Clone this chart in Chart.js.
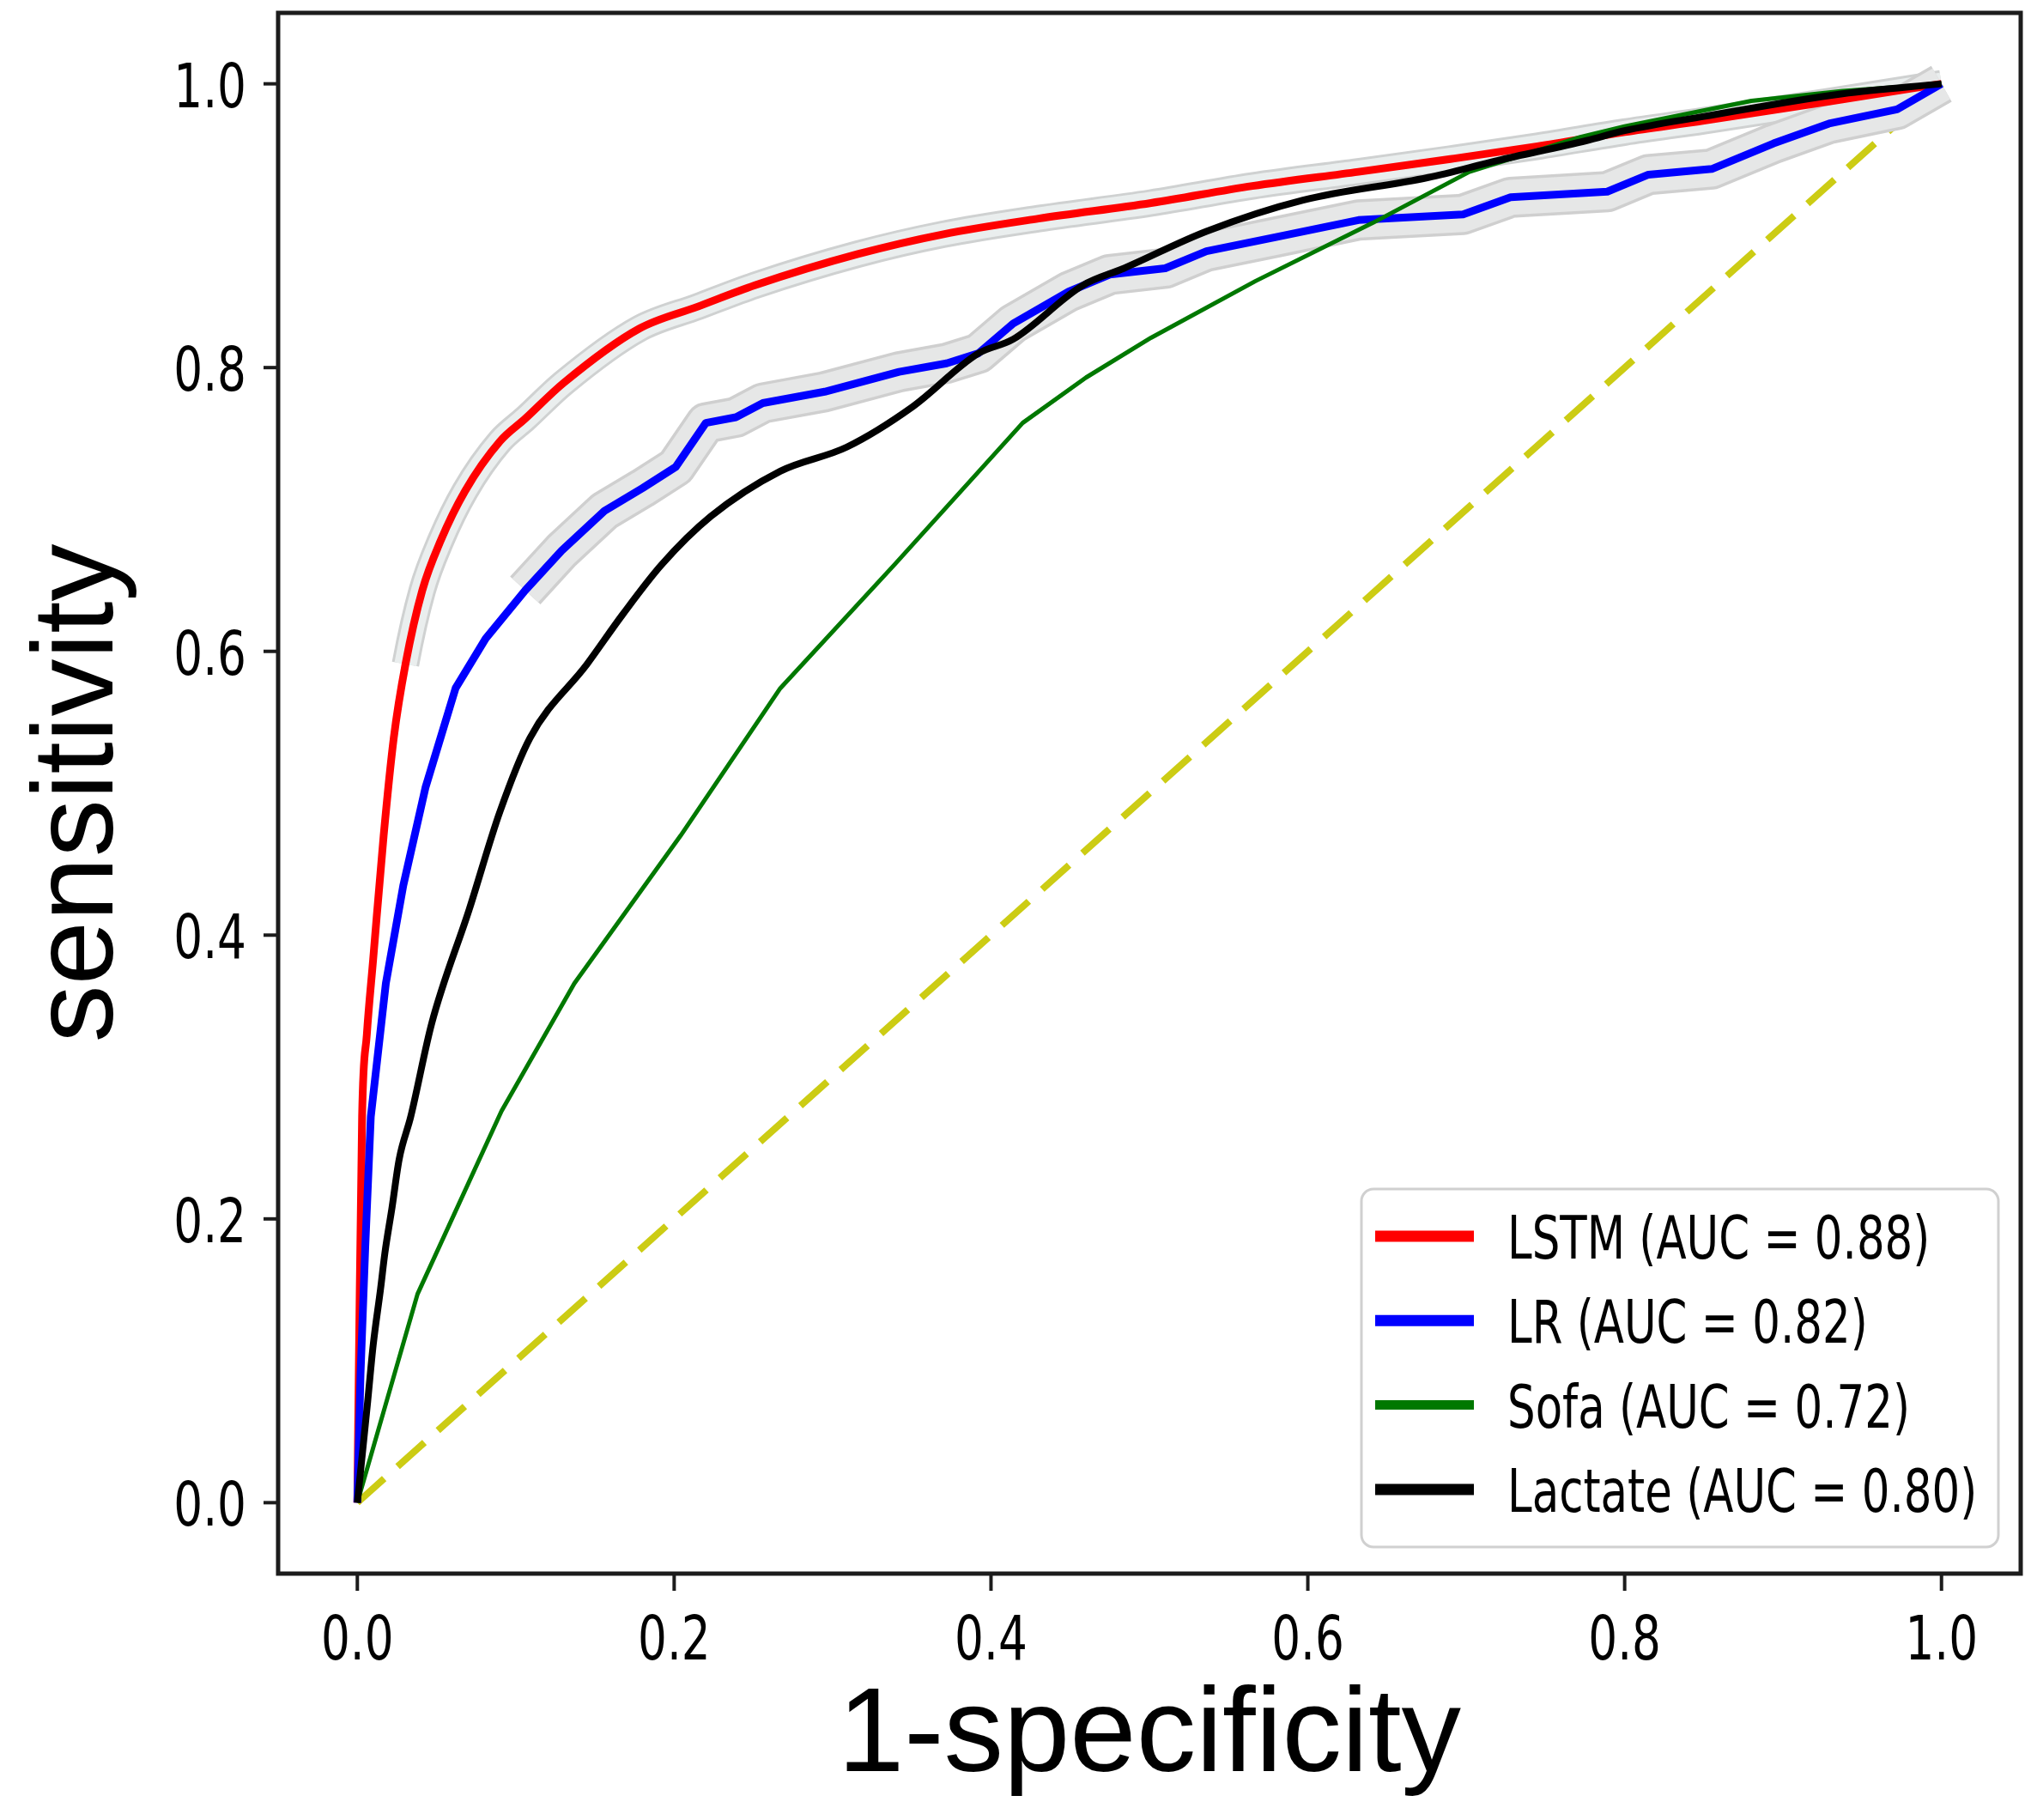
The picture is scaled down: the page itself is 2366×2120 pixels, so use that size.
<!DOCTYPE html>
<html><head><meta charset="utf-8">
<script src="https://cdn.jsdelivr.net/npm/chart.js@4/dist/chart.umd.min.js"></script>
<style>html,body{margin:0;padding:0;background:#fff;}canvas{display:block;}</style>
</head><body>
<canvas id="c" width="2366" height="2120"></canvas>
<script>
// ---------- data ----------
const xTickValues = [0, 0.2, 0.4, 0.6, 0.8, 1.0];
const yTickValues = [0, 0.2, 0.4, 0.6, 0.8, 1.0];
const xTitle = '1-specificity';
const yTitle = 'sensitivity';
const seriesLabels = ['LSTM (AUC = 0.88)', 'LR (AUC = 0.82)', 'Sofa (AUC = 0.72)', 'Lactate (AUC = 0.80)'];

const lstmFPR = [0, 0.001, 0.003, 0.006, 0.010, 0.0166, 0.023, 0.0304, 0.041, 0.0526, 0.068, 0.090, 0.106, 0.130, 0.178, 0.215, 0.251, 0.316, 0.370, 0.430, 0.501, 0.565, 0.632, 0.690, 0.745, 0.800, 0.850, 0.9375, 1];
const lstmTPR = [0, 0.10, 0.272, 0.33, 0.383, 0.47, 0.539, 0.591, 0.643, 0.678, 0.713, 0.748, 0.764, 0.789, 0.8275, 0.843, 0.858, 0.880, 0.894, 0.905, 0.916, 0.928, 0.938, 0.947, 0.956, 0.966, 0.974, 0.989, 1];

const lrFPR = [0, 0.002, 0.005, 0.0085, 0.018, 0.029, 0.043, 0.062, 0.081, 0.106, 0.129, 0.156, 0.18, 0.201, 0.22, 0.239, 0.256, 0.295, 0.342, 0.372, 0.392, 0.414, 0.449, 0.475, 0.51, 0.536, 0.58, 0.632, 0.698, 0.728, 0.789, 0.815, 0.855, 0.894, 0.929, 0.972, 1];
const lrTPR = [0, 0.09, 0.18, 0.272, 0.366, 0.435, 0.504, 0.574, 0.609, 0.643, 0.671, 0.699, 0.715, 0.730, 0.761, 0.765, 0.775, 0.783, 0.797, 0.803, 0.810, 0.831, 0.8535, 0.8656, 0.870, 0.882, 0.892, 0.904, 0.908, 0.920, 0.924, 0.936, 0.940, 0.958, 0.972, 0.982, 1];

const sofaFPR = [0, 0.038, 0.091, 0.137, 0.204, 0.267, 0.339, 0.42, 0.46, 0.501, 0.567, 0.641, 0.702, 0.772, 0.80, 0.88, 0.9375, 1];
const sofaTPR = [0, 0.147, 0.276, 0.366, 0.47, 0.574, 0.661, 0.761, 0.793, 0.821, 0.861, 0.902, 0.938, 0.9625, 0.97, 0.988, 0.995, 1];

const lactateFPR = [0, 0.0065, 0.010, 0.0147, 0.0174, 0.0219, 0.0264, 0.0337, 0.047, 0.0706, 0.09, 0.109, 0.145, 0.1675, 0.192, 0.223, 0.267, 0.309, 0.35, 0.392, 0.414, 0.458, 0.484, 0.536, 0.597, 0.676, 0.72, 0.776, 0.80, 0.85, 0.9375, 1];
const lactateTPR = [0, 0.071, 0.111, 0.151, 0.176, 0.208, 0.242, 0.272, 0.338, 0.418, 0.487, 0.539, 0.591, 0.626, 0.661, 0.695, 0.727, 0.744, 0.772, 0.81, 0.82, 0.858, 0.870, 0.896, 0.918, 0.934, 0.946, 0.960, 0.967, 0.977, 0.993, 1];

const chanceFPR = [0, 1];
const chanceTPR = [0, 1];

// ---------- helpers ----------
const pts = (xs, ys) => xs.map((x, i) => ({x: x, y: ys[i]}));
const hideBelow = (lim) => ({borderColor: c => (c.p0.parsed.y < lim ? 'rgba(0,0,0,0)' : undefined)});
const colors = {lstm: '#ff0000', lr: '#0000ff', sofa: '#007800', lactate: '#000000', chance: '#cccc14'};
const lineWidths = {lstm: 9, lr: 9, sofa: 5, lactate: 8};

function condensedText(ctx, text, x, y, size, sx, align) {
  ctx.save();
  ctx.translate(x, y);
  ctx.scale(sx, 1);
  ctx.font = size + 'px "DejaVu Sans", sans-serif';
  ctx.fillStyle = '#000';
  ctx.textAlign = align;
  ctx.textBaseline = 'alphabetic';
  ctx.fillText(text, 0, 0);
  ctx.restore();
}

const decorPlugin = {
  id: 'decor',
  afterDraw(chart) {
    const ctx = chart.ctx, a = chart.chartArea, xs = chart.scales.x, ys = chart.scales.y;
    ctx.save();
    // frame
    ctx.strokeStyle = '#1c1c1c';
    ctx.lineWidth = 5;
    ctx.strokeRect(a.left, a.top, a.right - a.left, a.bottom - a.top);
    // tick marks + labels
    ctx.lineWidth = 4;
    xs.ticks.forEach(t => {
      const px = xs.getPixelForValue(t.value);
      ctx.beginPath(); ctx.moveTo(px, a.bottom); ctx.lineTo(px, a.bottom + 20); ctx.stroke();
      condensedText(ctx, t.label != null ? String(t.label) : t.value.toFixed(1), px, a.bottom + 100, 71, 0.75, 'center');
    });
    ys.ticks.forEach(t => {
      const py = ys.getPixelForValue(t.value);
      ctx.beginPath(); ctx.moveTo(a.left - 17, py); ctx.lineTo(a.left, py); ctx.stroke();
      condensedText(ctx, t.label != null ? String(t.label) : t.value.toFixed(1), a.left - 37, py + 27, 71, 0.75, 'right');
    });
    // legend
    const bx = 1586, by = 1385, bw = 742, bh = 417, r = 14;
    ctx.beginPath();
    ctx.moveTo(bx + r, by);
    ctx.lineTo(bx + bw - r, by); ctx.arcTo(bx + bw, by, bx + bw, by + r, r);
    ctx.lineTo(bx + bw, by + bh - r); ctx.arcTo(bx + bw, by + bh, bx + bw - r, by + bh, r);
    ctx.lineTo(bx + r, by + bh); ctx.arcTo(bx, by + bh, bx, by + bh - r, r);
    ctx.lineTo(bx, by + r); ctx.arcTo(bx, by, bx + r, by, r);
    ctx.closePath();
    ctx.fillStyle = 'rgba(255,255,255,0.9)';
    ctx.fill();
    ctx.strokeStyle = '#d0d0d0';
    ctx.lineWidth = 3;
    ctx.stroke();
    const legendSets = chart.data.datasets.filter(d => d.legendIndex !== undefined).sort((p, q) => p.legendIndex - q.legendIndex);
    legendSets.forEach((d, i) => {
      const cy = 1440 + i * 98.3;
      ctx.strokeStyle = d.borderColor;
      ctx.lineWidth = d.legendIndex === 2 ? 11 : 13;
      ctx.lineCap = 'butt';
      ctx.beginPath(); ctx.moveTo(1602, cy); ctx.lineTo(1717, cy); ctx.stroke();
      condensedText(ctx, d.label, 1756, cy + 26, 69, 0.745, 'left');
    });
    ctx.restore();
  }
};

const datasets = [
  {label: 'chance', data: pts(chanceFPR, chanceTPR), borderColor: colors.chance, borderWidth: 8, borderDash: [42, 21], order: 20},
  {label: 'lstm band edge', data: pts(lstmFPR, lstmTPR), borderColor: '#cfd1d1', borderWidth: 32, order: 19, segment: hideBelow(0.58), cubicInterpolationMode: 'monotone'},
  {label: 'lstm band', data: pts(lstmFPR, lstmTPR), borderColor: '#eaeeee', borderWidth: 26, order: 18, segment: hideBelow(0.58), cubicInterpolationMode: 'monotone'},
  {label: 'lr band edge', data: pts(lrFPR, lrTPR), borderColor: '#cfcfcf', borderWidth: 48, order: 17, segment: hideBelow(0.63)},
  {label: 'lr band', data: pts(lrFPR, lrTPR), borderColor: '#e6e7e7', borderWidth: 41, order: 16, segment: hideBelow(0.63)},
  {label: seriesLabels[0], legendIndex: 0, data: pts(lstmFPR, lstmTPR), borderColor: colors.lstm, borderWidth: lineWidths.lstm, order: 5, cubicInterpolationMode: 'monotone'},
  {label: seriesLabels[1], legendIndex: 1, data: pts(lrFPR, lrTPR), borderColor: colors.lr, borderWidth: lineWidths.lr, order: 4},
  {label: seriesLabels[2], legendIndex: 2, data: pts(sofaFPR, sofaTPR), borderColor: colors.sofa, borderWidth: lineWidths.sofa, order: 3},
  {label: seriesLabels[3], legendIndex: 3, data: pts(lactateFPR, lactateTPR), borderColor: colors.lactate, borderWidth: lineWidths.lactate, order: 2, cubicInterpolationMode: 'monotone'}
];
datasets.forEach(d => { d.pointRadius = 0; d.fill = false; d.tension = d.cubicInterpolationMode ? 0.4 : 0; d.borderJoinStyle = 'round'; d.borderCapStyle = 'butt'; });

new Chart(document.getElementById('c'), {
  type: 'line',
  data: {datasets: datasets},
  options: {
    responsive: false,
    devicePixelRatio: 1,
    animation: false,
    parsing: false,
    layout: {padding: {top: 15, right: 12, left: 0, bottom: 0}},
    plugins: {legend: {display: false}, tooltip: {enabled: false}},
    scales: {
      x: {
        type: 'linear', min: -0.05, max: 1.05,
        afterBuildTicks: s => { s.ticks = xTickValues.map(v => ({value: v})); },
        afterFit: s => { s.height = 287; },
        grid: {display: false}, border: {display: false},
        ticks: {display: false, callback: v => Number(v).toFixed(1)},
        title: {display: true, text: xTitle, color: '#000', font: {family: '"Liberation Sans", Arial, Helvetica, sans-serif', size: 139}, padding: {top: 0, bottom: 12}}
      },
      y: {
        type: 'linear', min: -0.05, max: 1.05,
        afterBuildTicks: s => { s.ticks = yTickValues.map(v => ({value: v})); },
        afterFit: s => { s.width = 324; },
        grid: {display: false}, border: {display: false},
        ticks: {display: false, callback: v => Number(v).toFixed(1)},
        title: {display: true, text: yTitle, color: '#000', font: {family: '"Liberation Sans", Arial, Helvetica, sans-serif', size: 134}, padding: {top: 14, bottom: 0}}
      }
    }
  },
  plugins: [decorPlugin]
});
</script>
</body></html>
